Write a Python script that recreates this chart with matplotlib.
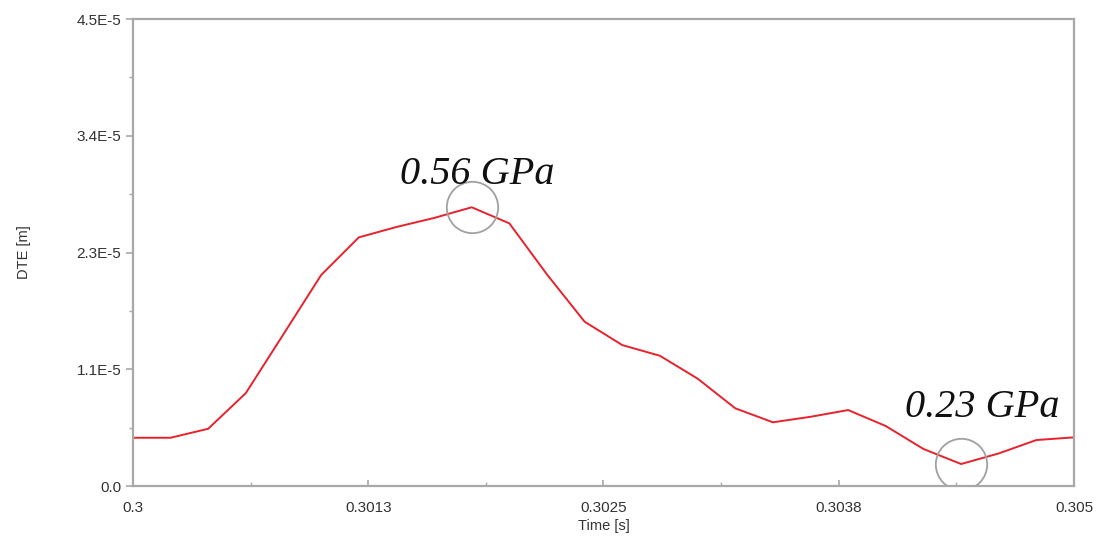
import numpy as np
import matplotlib
matplotlib.use("Agg")
import matplotlib.pyplot as plt
from matplotlib.ticker import FixedLocator

# DTE over one mesh cycle, sampled every 0.2 ms
time_s = np.linspace(0.3, 0.305, 26)
dte_m = [4.65e-6, 4.65e-6, 5.52e-6, 8.96e-6, 1.464e-5, 2.033e-5, 2.396e-5,
         2.496e-5, 2.583e-5, 2.686e-5, 2.531e-5, 2.038e-5, 1.583e-5, 1.358e-5,
         1.255e-5, 1.035e-5, 7.49e-6, 6.14e-6, 6.67e-6, 7.32e-6, 5.78e-6,
         3.57e-6, 2.12e-6, 3.14e-6, 4.43e-6, 4.69e-6]

x_ticks = [0.3, 0.30125, 0.3025, 0.30375, 0.305]
x_labels = ["0.3", "0.3013", "0.3025", "0.3038", "0.305"]
y_ticks = [0.0, 1.125e-5, 2.25e-5, 3.375e-5, 4.5e-5]
y_labels = ["0.0", "1.1E-5", "2.3E-5", "3.4E-5", "4.5E-5"]

# contact pressure labels at the max / min points
peak_idx = 9
low_idx = 22
peak_label = "0.56 GPa"
low_label = "0.23 GPa"

plt.rcParams['font.family'] = ['Liberation Sans', 'DejaVu Sans']

fig = plt.figure(figsize=(11.07, 5.39), dpi=100)
ax = fig.add_axes([0.1201, 0.0983, 0.8501, 0.8664])

ax.plot(time_s, dte_m, color='#e8222c', lw=1.4)

ax.set_xlim(0.3, 0.305)
ax.set_ylim(0, 4.5e-5)
ax.set_xticks(x_ticks)
ax.set_xticklabels(x_labels)
ax.set_yticks(y_ticks)
ax.set_yticklabels(y_labels)
ax.xaxis.set_minor_locator(FixedLocator([(a + b) / 2 for a, b in zip(x_ticks[:-1], x_ticks[1:])]))
ax.yaxis.set_minor_locator(FixedLocator([(a + b) / 2 for a, b in zip(y_ticks[:-1], y_ticks[1:])]))

for s in ax.spines.values():
    s.set_color('#a8a8a8')
    s.set_linewidth(1.6)

ax.tick_params(axis='both', which='both', colors='#a8a8a8', labelcolor='#333333', labelsize=11)
ax.tick_params(axis='y', which='major', direction='out', length=5, width=1.2)
ax.tick_params(axis='y', which='minor', direction='out', length=3, width=1.0)
ax.tick_params(axis='x', which='major', direction='in', length=4, width=1.2, pad=11)
ax.tick_params(axis='x', which='minor', direction='in', length=3, width=1.0)

ax.set_xlabel("Time [s]", fontsize=10.5, color='#333333', labelpad=3)
ax.set_ylabel("DTE [m]", fontsize=10.5, color='#333333', labelpad=33)

# circles around the marked points
for i in (peak_idx, low_idx):
    ax.plot(time_s[i], dte_m[i], marker='o', ms=37, mfc='none', mec='#a0a0a0', mew=1.3)

ax.annotate(peak_label, (time_s[peak_idx], dte_m[peak_idx]), xytext=(4, 17),
            textcoords='offset points', ha='center', va='baseline',
            fontsize=29, fontstyle='italic', family=['Liberation Serif'], color='#111111')
ax.annotate(low_label, (time_s[low_idx], dte_m[low_idx]), xytext=(15, 34),
            textcoords='offset points', ha='center', va='baseline',
            fontsize=29, fontstyle='italic', family=['Liberation Serif'], color='#111111')

fig.savefig("out.png", dpi=100)
